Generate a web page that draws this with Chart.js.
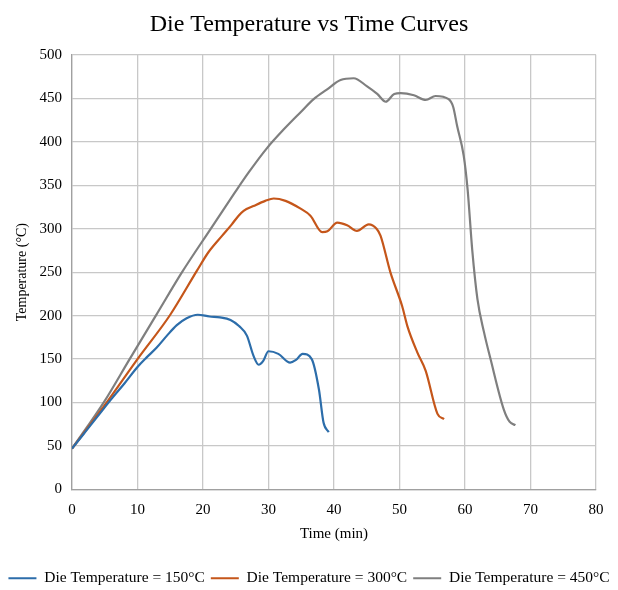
<!DOCTYPE html>
<html>
<head>
<meta charset="utf-8">
<script src="https://cdn.jsdelivr.net/npm/chart.js@4/dist/chart.umd.min.js"></script>
<style>
  html, body { margin: 0; padding: 0; background: #fff; }
  #wrap { width: 618px; height: 590px; }
</style>
</head>
<body>
<div id="wrap"><canvas id="chart" width="618" height="590"></canvas></div>
<script>
// values (time in min, temperature in °C)
const time150 = [0, 2, 4, 6, 8, 10, 11.4, 12.9, 14.5, 16, 17.5, 19.2, 21, 22.6, 24.2, 25.5, 26.7, 27.7, 28.5, 29.2, 30, 31.5, 33.3, 34.2, 35.2, 36.6, 37.7, 38.4, 39.2];
const temp150 = [47, 66, 85, 104, 122, 141, 152, 163, 177, 189, 197, 201, 199, 198, 195, 188, 177, 154, 143.5, 148, 159, 156, 146, 149, 156, 150, 115, 77, 66];

const time300 = [0, 5, 10, 15, 19.1, 20.8, 22.9, 24.4, 25.4, 26.2, 27.7, 29.5, 30.8, 32.6, 34.9, 36.4, 38.2, 39, 40.5, 42, 43.5, 45.3, 46.5, 47.1, 48.6, 50.4, 51.2, 52.7, 54, 55.8, 56.8];
const temp300 = [47, 97, 150, 201, 252, 272.6, 291.7, 305, 314.7, 320.5, 326, 332, 334.7, 332, 323, 315, 296, 297, 307, 304, 297.5, 305, 300, 292, 250, 211, 188, 158, 136.5, 87, 81];

const time450 = [0, 5, 8.8, 12.8, 16.8, 21.1, 24.9, 27, 29.8, 32.3, 34.9, 36.9, 38.9, 41, 43, 45, 46.6, 47.9, 49.2, 50.2, 52.2, 54, 55.5, 57.5, 58.2, 58.8, 59.8, 60.4, 61.1, 61.9, 62.9, 63.9, 65.9, 66.8, 67.7];
const temp450 = [47, 102, 150, 200, 250, 299, 342, 365, 393, 414, 434, 449, 460, 471, 473, 464, 455, 446, 455, 456, 453.5, 448, 452.6, 449, 440, 418, 384, 345, 276, 219, 181, 150, 92.5, 78, 74];

const seriesLabels = ['Die Temperature = 150°C', 'Die Temperature = 300°C', 'Die Temperature = 450°C'];
const seriesColors = ['#2C6DAA', '#C5561A', '#7F7F7F'];

const serif = '"Liberation Serif", "Times New Roman", serif';
const toPoints = (xs, ys) => xs.map((x, i) => ({ x: x, y: ys[i] }));

const makeSet = (i, xs, ys) => ({
  label: seriesLabels[i],
  data: toPoints(xs, ys),
  borderColor: seriesColors[i],
  backgroundColor: seriesColors[i],
  borderWidth: 2.2,
  pointRadius: 0,
  showLine: true,
  cubicInterpolationMode: 'monotone',
});

new Chart(document.getElementById('chart'), {
  type: 'scatter',
  data: {
    datasets: [
      makeSet(0, time150, temp150),
      makeSet(1, time300, temp300),
      makeSet(2, time450, temp450),
    ],
  },
  options: {
    responsive: false,
    animation: false,
    // legend sits lower than chart.js would put it, hence the negative bottom
    layout: { padding: { top: 3, left: 0, right: 0, bottom: -6 } },
    plugins: {
      tooltip: { enabled: false },
      title: {
        display: true,
        text: 'Die Temperature vs Time Curves',
        color: '#000',
        font: { family: serif, size: 24, weight: 'normal' },
        padding: { top: 7, bottom: 16 },
      },
      legend: {
        position: 'bottom',
        labels: {
          color: '#000',
          font: { family: serif, size: 15.5 },
          boxWidth: 28,
          boxHeight: 2,
          padding: 6,
          generateLabels: chart => Chart.defaults.plugins.legend.labels.generateLabels(chart)
            .map(item => Object.assign(item, { lineWidth: 0 })),
        },
      },
    },
    scales: {
      x: {
        type: 'linear',
        min: 0,
        max: 80,
        afterFit: scale => { scale.height = 75; },
        ticks: {
          stepSize: 10,
          color: '#000',
          padding: 12,
          font: { family: serif, size: 15 },
        },
        grid: { color: '#C8C8C8', lineWidth: 1.3, drawTicks: false },
        border: { color: '#A0A0A0', width: 1.3 },
        title: {
          display: true,
          text: 'Time (min)',
          color: '#000',
          font: { family: serif, size: 15 },
          padding: { top: 0, bottom: 21 },
        },
      },
      y: {
        min: 0,
        max: 500,
        afterFit: scale => { scale.width = 72; },
        ticks: {
          stepSize: 50,
          color: '#000',
          padding: 10,
          font: { family: serif, size: 15 },
        },
        grid: { color: '#C8C8C8', lineWidth: 1.3, drawTicks: false },
        border: { color: '#A0A0A0', width: 1.3 },
        title: {
          display: true,
          text: 'Temperature (°C)',
          color: '#000',
          font: { family: serif, size: 14 },
          padding: { top: 14, bottom: 0 },
        },
      },
      // empty axis on the right, only keeps the gap beside the plot
      gap: {
        position: 'right',
        afterFit: scale => { scale.width = 22; },
        ticks: { display: false },
        grid: { display: false },
        border: { display: false },
      },
    },
  },
});
</script>
</body>
</html>
